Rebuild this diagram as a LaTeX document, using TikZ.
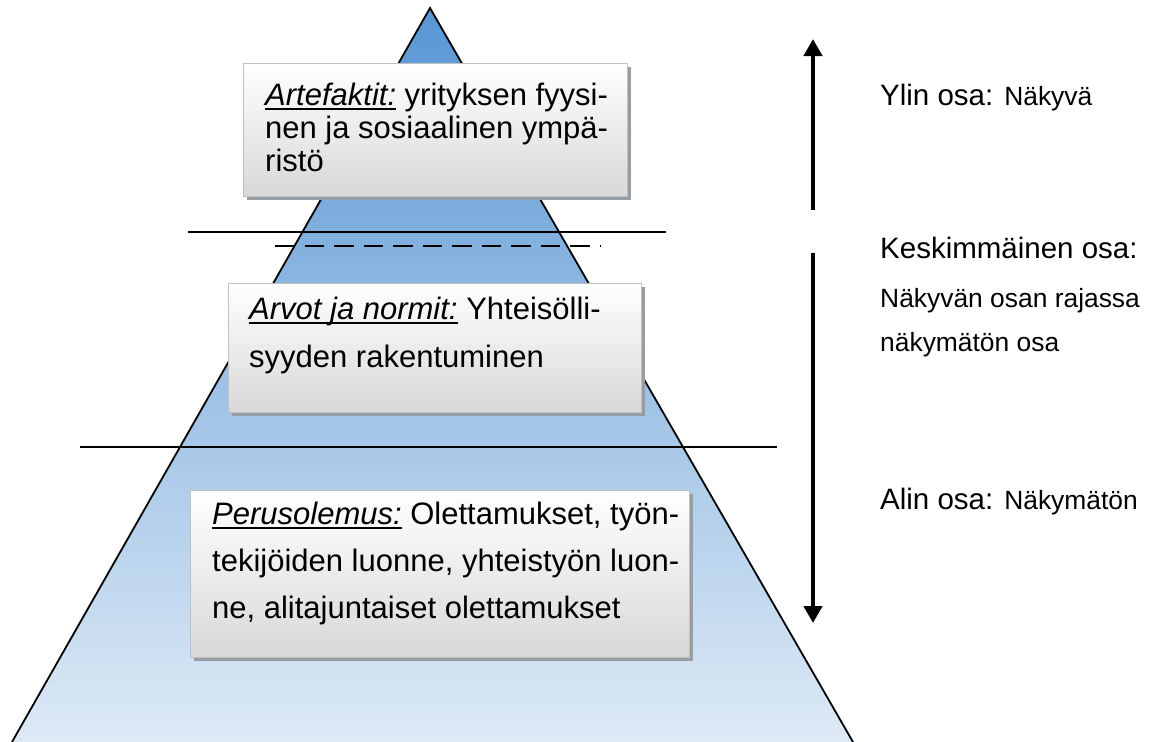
\documentclass[tikz,border=0pt]{standalone}
\usepackage{fontspec}
\setmainfont{Liberation Sans}
\usetikzlibrary{arrows.meta,shadows}

\definecolor{tiptop}{RGB}{88,150,212}
\definecolor{tipbase}{RGB}{222,234,246}
\definecolor{boxlow}{RGB}{216,216,216}
\definecolor{boxedge}{RGB}{192,192,192}
\definecolor{boxshade}{RGB}{150,157,163}

% italic, underlined level label
\newsavebox\lvlbox
\newcommand\lvllabel[1]{\sbox\lvlbox{\itshape #1}\rlap{\rule[-4.5pt]{\wd\lvlbox}{2pt}}\usebox\lvlbox}

\tikzset{
  level/.style={rectangle, draw=boxedge, line width=1.2pt, top color=white,
    bottom color=boxlow, inner sep=0pt, anchor=north west,
    drop shadow={fill=boxshade, opacity=1, shadow xshift=3.5pt, shadow yshift=-3.5pt}},
  boxtext/.style={anchor=base west, inner sep=0pt, font=\fontsize{31}{33}\selectfont},
  sidetext/.style={anchor=base west, inner sep=0pt, font=\fontsize{29.5}{32}\selectfont},
  small/.style={font=\fontsize{26.4}{30}\selectfont},
  divider/.style={line width=1.8pt},
  bigarrow/.style={line width=4.5pt, -{Triangle[width=18pt,length=17pt]}}
}

\begin{document}
\begin{tikzpicture}[x=1pt, y=-1pt]
\useasboundingbox (0,0) rectangle (1152,742);

% the pyramid
\coordinate (apex) at (430,8);
\coordinate (bl) at (12,742);
\coordinate (br) at (853,742);
\shade[top color=tiptop, bottom color=tipbase] (apex) -- (br) -- (bl) -- cycle;
\draw[line width=1.8pt, line join=miter] (bl) -- (apex) -- (br);

% boundaries between levels
\draw[divider] (188,232) -- (666,232);
\draw[divider, dash pattern=on 19.5pt off 10pt] (275,246) -- (601,246);
\draw[divider] (80,447) -- (777,447);

% level boxes
\node[level, minimum width=384pt, minimum height=133pt] (art) at (243,63) {};
\node[level, minimum width=413pt, minimum height=129pt] (arv) at (228,283) {};
\node[level, minimum width=499pt, minimum height=167pt] (per) at (190,490) {};

% box texts
\node[boxtext] (art1) at (265,105) {\lvllabel{Artefaktit:} yrityksen fyysi-};
\node[boxtext] (art2) at (265,138) {nen ja sosiaalinen ympä-};
\node[boxtext] (art3) at (265,171) {ristö};

\node[boxtext] (arv1) at (249,319) {\lvllabel{Arvot ja normit:} Yhteisölli-};
\node[boxtext] (arv2) at (249,367) {syyden rakentuminen};

\node[boxtext] (per1) at (212,524) {\lvllabel{Perusolemus:} Olettamukset, työn-};
\node[boxtext] (per2) at (212,571) {tekijöiden luonne, yhteistyön luon-};
\node[boxtext] (per3) at (212,618) {ne, alitajuntaiset olettamukset};

% visibility arrows
\coordinate (upS) at (813,210);
\coordinate (upE) at (813,39);
\coordinate (dnS) at (813,253);
\coordinate (dnE) at (813,623);
\draw[bigarrow] (upS) -- (upE);
\draw[bigarrow] (dnS) -- (dnE);

% side descriptions
\node[sidetext] (top) at (880,105) {Ylin osa: {\fontsize{26.4}{30}\selectfont Näkyvä}};
\node[sidetext] (mid1) at (880,258) {Keskimmäinen osa:};
\node[sidetext, small] (mid2) at (880,307) {Näkyvän osan rajassa};
\node[sidetext, small] (mid3) at (880,351) {näkymätön osa};
\node[sidetext] (low) at (880,509) {Alin osa: {\fontsize{26.4}{30}\selectfont Näkymätön}};
\end{tikzpicture}
\end{document}
